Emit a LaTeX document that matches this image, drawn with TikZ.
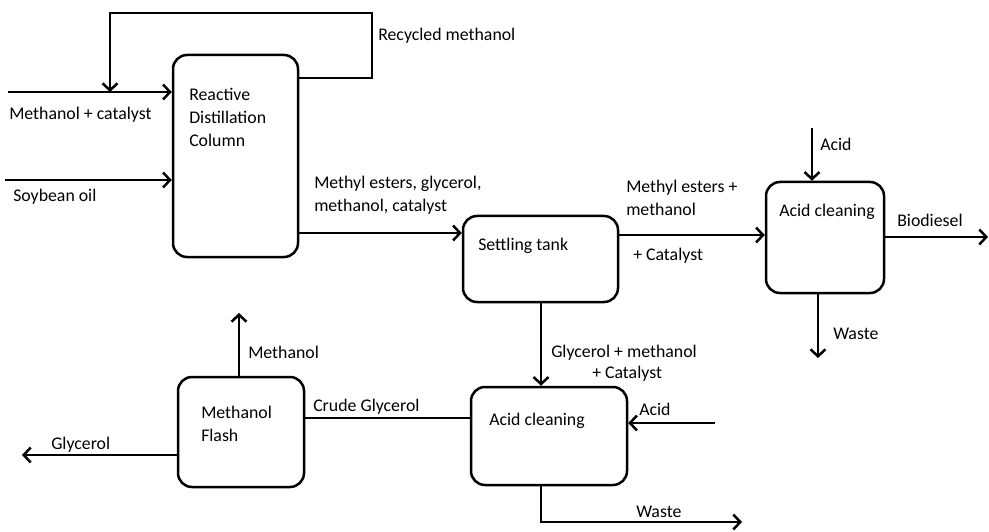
\documentclass[tikz,border=0pt]{standalone}
\usepackage{fontspec}
\setmainfont{Carlito}
\usetikzlibrary{arrows.meta}
\begin{document}
\begin{tikzpicture}[x=1pt,y=-1pt,
  line width=2.5pt,
  arr/.style={-{Straight Barb[length=7pt,width=15pt,line width=2.5pt]}},
  unit/.style={draw,rounded corners=14pt,minimum width=#1,inner sep=0pt},
  lbl/.style={font=\fontsize{17.8}{23}\selectfont,inner sep=0pt,anchor=west,text height=12pt,text depth=4pt,align=left},
  lbl2/.style={font=\fontsize{17.8}{23}\selectfont,inner sep=0pt,anchor=north west,align=left}]
\useasboundingbox (0,0) rectangle (989,532);
% units
\node[unit=125pt,minimum height=202pt] (rdc) at (235.5,156) {};
\node[unit=155pt,minimum height=86pt] (st) at (540.5,259) {};
\node[unit=118pt,minimum height=111pt] (ac1) at (825,237.5) {};
\node[unit=156pt,minimum height=98pt] (ac2) at (549,436) {};
\node[unit=126pt,minimum height=110pt] (mf) at (241,432) {};
% unit texts
\node[lbl2] (trdc) at (188,87) {Reactive\\Distillation\\Column};
\node[lbl] (tst) at (477,247) {Settling tank};
\node[lbl] (tac1) at (778,213) {Acid cleaning};
\node[lbl] (tac2) at (488,421) {Acid cleaning};
\node[lbl2] (tmf) at (200,405) {Methanol\\Flash};
% coordinates
\coordinate (mcin) at (8,92);
\coordinate (soyin) at (5,180);
\coordinate (rj) at (110,92);
\coordinate (r1) at (372,78);
\coordinate (r2) at (372,13);
\coordinate (r3) at (110,13);
\coordinate (rdcout) at (298,233);
\coordinate (stout) at (618,235);
\coordinate (acidin1) at (812,128);
\coordinate (bio) at (988,237);
\coordinate (w1) at (818,358);
\coordinate (acidin2) at (715,423);
\coordinate (w2a) at (541,522);
\coordinate (w2b) at (742,522);
\coordinate (cg) at (471,418);
\coordinate (meoh) at (239,313);
\coordinate (gly) at (22,455);
% connectors
\draw[arr] (mcin) -- (rdc.west |- mcin);
\draw[arr] (soyin) -- (rdc.west |- soyin);
\draw[arr] (rdc.east |- r1) -- (r1) -- (r2) -- (r3) -- (rj);
\draw[arr] (rdc.east |- rdcout) -- (st.west |- rdcout);
\draw[arr] (stout) -- (ac1.west |- stout);
\draw[arr] (acidin1) -- (acidin1 |- ac1.north);
\draw[arr] (ac1.east |- bio) -- (bio);
\draw[arr] (w1 |- ac1.south) -- (w1);
\draw[arr] (st.south -| w2a) -- (w2a |- ac2.north);
\draw[arr] (acidin2) -- (ac2.east |- acidin2);
\draw[arr] (ac2.south -| w2a) -- (w2a) -- (w2b);
\draw (cg) -- (mf.east |- cg);
\draw[arr] (meoh |- mf.north) -- (meoh);
\draw[arr] (mf.west |- gly) -- (gly);
% labels
\node[lbl] (lmc) at (8,116) {Methanol + catalyst};
\node[lbl] (lsoy) at (12,198) {Soybean oil};
\node[lbl] (lrec) at (377,37) {Recycled methanol};
\node[lbl2] (lrdc) at (313,175) {Methyl esters, glycerol,\\methanol, catalyst};
\node[lbl2] (lme) at (625,179) {Methyl esters +\\methanol};
\node[lbl] (lcat) at (632,256) {+ Catalyst};
\node[lbl] (lacid1) at (819,147) {Acid};
\node[lbl] (lbio) at (896,222) {Biodiesel};
\node[lbl] (lw1) at (832,335) {Waste};
\node[lbl] (lgm) at (550,353) {Glycerol + methanol};
\node[lbl] (lgc) at (591,374) {+ Catalyst};
\node[lbl] (lacid2) at (638,411) {Acid};
\node[lbl] (lw2) at (635,513) {Waste};
\node[lbl] (lcg) at (312,407) {Crude Glycerol};
\node[lbl] (lmeoh) at (247,354) {Methanol};
\node[lbl] (lgly) at (50,445) {Glycerol};
\end{tikzpicture}
\end{document}
